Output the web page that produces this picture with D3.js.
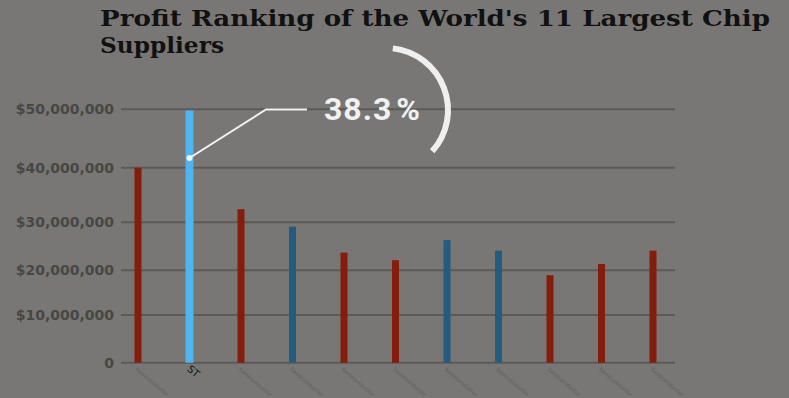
<!DOCTYPE html>
<html>
<head>
<meta charset="utf-8">
<script src="https://cdnjs.cloudflare.com/ajax/libs/d3/7.8.5/d3.min.js"></script>
<style>
  html, body { margin: 0; padding: 0; background: #787775; overflow: hidden; }
  svg { display: block; }
</style>
</head>
<body>
<div id="container"></div>
<script>
// chart data
var suppliers = ["Semiconductor", "ST", "Semiconductor", "Semiconductor", "Semiconductor", "Semiconductor",
                 "Semiconductor", "Semiconductor", "Semiconductor", "Semiconductor", "Semiconductor"];
var profits = [40000000, 49800000, 32400000, 29100000, 23700000, 22100000, 26300000, 24100000, 18900000, 21300000, 24100000];
var groups = ["red", "highlight", "red", "blue", "red", "red", "blue", "blue", "red", "red", "red"];
var yTicks = [0, 10000000, 20000000, 30000000, 40000000, 50000000];
var titleLines = ["Profit Ranking of the World's 11 Largest Chip", "Suppliers"];
var share = 38.3;

var width = 789, height = 398;
var svg = d3.select("div#container").append("svg")
    .attr("width", width)
    .attr("height", height);

// background
svg.append("rect").attr("width", width).attr("height", height).attr("fill", "#787775");

// the original axis is not evenly spaced, so map each tick separately
var y = d3.scaleLinear()
    .domain(yTicks)
    .range([362.7, 315, 270.3, 222.3, 167.7, 109.3]);

var x = d3.scalePoint()
    .domain(d3.range(suppliers.length))
    .range([138, 653]);

var colors = { red: "#841d0c", blue: "#245c7f", highlight: "#4fb4ef" };

// gridlines
svg.append("g").selectAll("line")
    .data(yTicks)
    .enter().append("line")
      .attr("x1", 121).attr("x2", 675)
      .attr("y1", function(d) { return y(d); })
      .attr("y2", function(d) { return y(d); })
      .attr("stroke", "#5b5a57")
      .attr("stroke-width", 2);

// y labels
svg.append("g").selectAll("text")
    .data(yTicks)
    .enter().append("text")
      .attr("x", 114)
      .attr("y", function(d) { return y(d); })
      .attr("dy", "0.36em")
      .attr("text-anchor", "end")
      .style("font-family", "DejaVu Sans")
      .style("font-weight", "bold")
      .style("font-size", "14px")
      .attr("fill", "#474744")
      .text(function(d) { return d === 0 ? "0" : "$" + d3.format(",")(d); });

// bars
svg.append("g").selectAll("rect")
    .data(profits)
    .enter().append("rect")
      .attr("x", function(d, i) { return x(i) - (groups[i] === "highlight" ? 4 : 3.5); })
      .attr("width", function(d, i) { return groups[i] === "highlight" ? 8 : 7; })
      .attr("y", function(d) { return y(d); })
      .attr("height", function(d) { return y(0) - y(d); })
      .attr("fill", function(d, i) { return colors[groups[i]]; });

// x labels, rotated
svg.append("g").selectAll("text")
    .data(suppliers)
    .enter().append("text")
      .attr("transform", function(d, i) {
        return "translate(" + (x(i) - 3) + "," + 370 + ") rotate(40)";
      })
      .style("font-family", "DejaVu Sans")
      .style("font-size", function(d) { return d === "ST" ? "10px" : "5.5px"; })
      .attr("fill", function(d) { return d === "ST" ? "#111" : "#5f5e5c"; })
      .text(function(d) { return d; });

// callout for ST
var hi = groups.indexOf("highlight");
var dot = [x(hi), 158];
svg.append("polyline")
    .attr("points", [dot, [266, 109.5], [307, 109.5]].map(function(p) { return p.join(","); }).join(" "))
    .attr("fill", "none")
    .attr("stroke", "#f4f4f4")
    .attr("stroke-width", 2);
svg.append("circle")
    .attr("cx", dot[0]).attr("cy", dot[1]).attr("r", 3)
    .attr("fill", "#f4f4f4");

var pct = svg.append("text")
    .attr("x", 324)
    .attr("y", 120)
    .style("font-family", "Roboto")
    .style("font-weight", "bold")
    .style("font-size", "32px")
    .style("letter-spacing", "1px")
    .attr("fill", "#f1f1f1");
pct.append("tspan").text(share.toFixed(1));
pct.append("tspan").attr("dx", 4).text("%");

// decorative arc
var arc = d3.arc()
    .innerRadius(59)
    .outerRadius(65)
    .startAngle(0.11)
    .endAngle(2.3);
svg.append("path")
    .attr("transform", "translate(386,110)")
    .attr("d", arc())
    .attr("fill", "#efefef");

// title
svg.append("g").selectAll("text")
    .data(titleLines)
    .enter().append("text")
      .attr("x", 100)
      .attr("y", function(d, i) { return 26 + i * 27; })
      .attr("textLength", function(d, i) { return i === 0 ? 670 : 124; })
      .attr("lengthAdjust", "spacingAndGlyphs")
      .style("font-family", "DejaVu Serif")
      .style("font-weight", "bold")
      .style("font-size", "22px")
      .attr("fill", "#111")
      .text(function(d) { return d; });
</script>
</body>
</html>
